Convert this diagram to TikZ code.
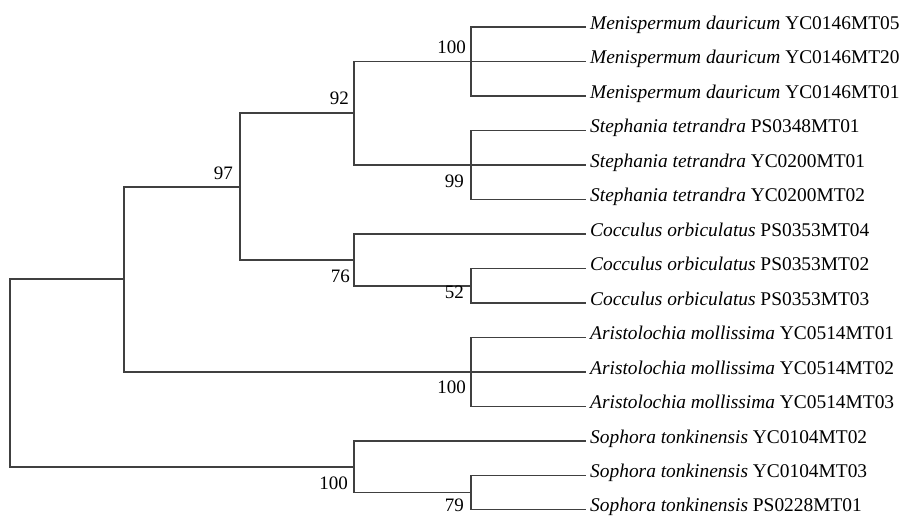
\documentclass[tikz,border=0pt]{standalone}
\usepackage{fontspec}
\setmainfont{Liberation Serif}
\begin{document}
\begin{tikzpicture}[x=1pt,y=-1pt,
  br/.style={draw=black!75,line width=1.8pt,line cap=rect},
  leaf/.style={anchor=west,inner xsep=5pt,inner ysep=0pt,text height=0.7em,text depth=0.25em,font=\fontsize{19.4}{22}\selectfont},
  bs/.style={anchor=east,inner sep=0pt,font=\fontsize{19}{22}\selectfont}]
\useasboundingbox (0,0) rectangle (905,515);
% leaves
\node[leaf] (L1)  at (585,27)    {\textit{Menispermum dauricum} YC0146MT05};
\node[leaf] (L2)  at (585,61.5)  {\textit{Menispermum dauricum} YC0146MT20};
\node[leaf] (L3)  at (585,96)    {\textit{Menispermum dauricum} YC0146MT01};
\node[leaf] (L4)  at (585,130.5) {\textit{Stephania tetrandra} PS0348MT01};
\node[leaf] (L5)  at (585,165)   {\textit{Stephania tetrandra} YC0200MT01};
\node[leaf] (L6)  at (585,199.5) {\textit{Stephania tetrandra} YC0200MT02};
\node[leaf] (L7)  at (585,234)   {\textit{Cocculus orbiculatus} PS0353MT04};
\node[leaf] (L8)  at (585,268.5) {\textit{Cocculus orbiculatus} PS0353MT02};
\node[leaf] (L9)  at (585,303)   {\textit{Cocculus orbiculatus} PS0353MT03};
\node[leaf] (L10) at (585,337.5) {\textit{Aristolochia mollissima} YC0514MT01};
\node[leaf] (L11) at (585,372)   {\textit{Aristolochia mollissima} YC0514MT02};
\node[leaf] (L12) at (585,406.5) {\textit{Aristolochia mollissima} YC0514MT03};
\node[leaf] (L13) at (585,441)   {\textit{Sophora tonkinensis} YC0104MT02};
\node[leaf] (L14) at (585,475.5) {\textit{Sophora tonkinensis} YC0104MT03};
\node[leaf] (L15) at (585,509.5) {\textit{Sophora tonkinensis} PS0228MT01};
% internal nodes
\coordinate (nMen) at (471,61.5);
\coordinate (nSte) at (471,165);
\coordinate (n92)  at (354,113.25);
\coordinate (n52)  at (471,285.75);
\coordinate (n76)  at (354,259.9);
\coordinate (n97)  at (240,186.6);
\coordinate (nAri) at (471,372);
\coordinate (nIn)  at (124,279.3);
\coordinate (n79)  at (471,492.5);
\coordinate (nSo)  at (354,466.8);
\coordinate (root) at (10,373);
% branches
\draw[br] (nMen) |- (L1.west);
\draw[br] (nMen) |- (L2.west);
\draw[br] (nMen) |- (L3.west);
\draw[br] (nSte) |- (L4.west);
\draw[br] (nSte) |- (L5.west);
\draw[br] (nSte) |- (L6.west);
\draw[br] (n92) |- (nMen);
\draw[br] (n92) |- (nSte);
\draw[br] (n52) |- (L8.west);
\draw[br] (n52) |- (L9.west);
\draw[br] (n76) |- (L7.west);
\draw[br] (n76) |- (n52);
\draw[br] (n97) |- (n92);
\draw[br] (n97) |- (n76);
\draw[br] (nAri) |- (L10.west);
\draw[br] (nAri) |- (L11.west);
\draw[br] (nAri) |- (L12.west);
\draw[br] (nIn) |- (n97);
\draw[br] (nIn) |- (nAri);
\draw[br] (n79) |- (L14.west);
\draw[br] (n79) |- (L15.west);
\draw[br] (nSo) |- (L13.west);
\draw[br] (nSo) |- (n79);
\draw[br] (root) |- (nIn);
\draw[br] (root) |- (nSo);
% support values
\node[bs] (bMen) at (466,47)    {100};
\node[bs] (b92)  at (349,98.5)  {92};
\node[bs] (b97)  at (233,173.5) {97};
\node[bs] (bSte) at (464,181)   {99};
\node[bs] (b76)  at (350,276.5) {76};
\node[bs] (b52)  at (464,292)   {52};
\node[bs] (bAri) at (466,387)   {100};
\node[bs] (bSo)  at (348,483)   {100};
\node[bs] (b79)  at (464,505.5) {79};
\end{tikzpicture}
\end{document}
